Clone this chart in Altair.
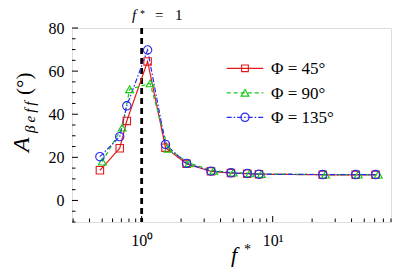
import altair as alt
import pandas as pd

# ---- data ----
series = ["Φ = 45°", "Φ = 90°", "Φ = 135°"]
colors = ["#e31a1a", "#14c814", "#2828f0"]

f_star_45 = [0.48, 0.68, 0.77, 1.11, 1.52, 2.2, 3.38, 4.8, 6.4, 7.86, 24.1, 43.0, 61.0]
f_star_90 = [0.50, 0.71, 0.81, 1.16, 1.59, 2.3, 3.55, 5.0, 6.7, 8.2, 25.3, 45.0, 64.0]
f_star_135 = [0.48, 0.68, 0.77, 1.11, 1.52, 2.2, 3.38, 4.8, 6.4, 7.86, 24.1, 43.0, 61.0]

a_45 = [14.0, 24.2, 36.9, 64.5, 24.5, 17.0, 13.5, 12.7, 12.4, 12.2, 11.9, 11.9, 11.9]
a_90 = [18.0, 33.8, 51.6, 54.3, 24.0, 17.3, 13.8, 12.9, 12.6, 12.3, 12.0, 12.0, 12.0]
a_135 = [20.3, 29.6, 43.9, 69.8, 26.0, 17.2, 13.6, 12.8, 12.5, 12.2, 12.0, 12.0, 12.0]

y_major = [0, 20, 40, 60, 80]
y_minor = [-10, -5, 5, 10, 15, 25, 30, 35, 45, 50, 55, 65, 70, 75]
x_major = [1, 10]
x_minor = [0.3, 0.4, 0.5, 0.6, 0.7, 0.8, 0.9, 2, 3, 4, 5, 6, 7, 8, 9, 20, 30, 40, 50, 60, 70, 80]
f_line = [1]

rows = []
for name, xs, ys in [(series[0], f_star_45, a_45), (series[1], f_star_90, a_90), (series[2], f_star_135, a_135)]:
    for xv, yv in zip(xs, ys):
        rows.append({"series": name, "f": xv, "A": yv})
df = pd.DataFrame(rows)

W, H = 319, 194
FONT = "Liberation Serif"

xscale = alt.Scale(type="log", domain=[0.294, 80], nice=False)
yscale = alt.Scale(domain=[-10, 80], nice=False, zero=False)

xaxis = alt.Axis(values=x_major, labelExpr="datum.value == 1 ? '10⁰' : '10¹'", title=None,
                 ticks=False, domain=False, grid=False, labelFont=FONT, labelFontSize=16,
                 labelColor="black", labelPadding=10)
yaxis = alt.Axis(values=y_major, title=None, ticks=False, domain=False, grid=False,
                 labelFont=FONT, labelFontSize=16, labelColor="black", labelPadding=8)

dashes = [[1, 0], [4, 3], [5, 2, 1.5, 2]]
shapes = ["square", "triangle-up", "circle"]
sizes = [55, 70, 90]

color_enc = alt.Color("series:N", scale=alt.Scale(domain=series, range=colors), legend=None)
dash_enc = alt.StrokeDash("series:N", scale=alt.Scale(domain=series, range=dashes), legend=None)

vline = alt.Chart(pd.DataFrame({"f": f_line})).mark_rule(
    color="black", strokeWidth=2.8, strokeDash=[6, 4]
).encode(x=alt.X("f:Q", scale=xscale, axis=xaxis))

lines = alt.Chart(df).mark_line(strokeWidth=1.2).encode(
    x=alt.X("f:Q", scale=xscale, axis=xaxis),
    y=alt.Y("A:Q", scale=yscale, axis=yaxis),
    color=color_enc,
    strokeDash=dash_enc,
    detail="series:N",
)

points = alt.Chart(df).mark_point(filled=False, strokeWidth=1.1, opacity=1).encode(
    x=alt.X("f:Q", scale=xscale, axis=xaxis),
    y=alt.Y("A:Q", scale=yscale, axis=yaxis),
    color=color_enc,
    shape=alt.Shape("series:N", scale=alt.Scale(domain=series, range=shapes), legend=None),
    size=alt.Size("series:N", scale=alt.Scale(domain=series, range=sizes), legend=None),
)

def yticks(vals, length):
    return alt.Chart(pd.DataFrame({"A": vals})).mark_rule(color="black", strokeWidth=1).encode(
        y=alt.Y("A:Q", scale=yscale, axis=yaxis), x=alt.value(0), x2=alt.value(length))

def xticks(vals, length):
    return alt.Chart(pd.DataFrame({"f": vals})).mark_rule(color="black", strokeWidth=1).encode(
        x=alt.X("f:Q", scale=xscale, axis=xaxis), y=alt.value(H), y2=alt.value(H - length))

one = pd.DataFrame({"k": [0]})

def txt(s, x, y, size, style="normal", angle=0, align="left", color="black"):
    return alt.Chart(one).mark_text(
        text=s, font=FONT, fontSize=size, fontStyle=style, angle=angle, align=align,
        baseline="alphabetic", color=color
    ).encode(x=alt.value(x), y=alt.value(y))

# legend (drawn by hand)
leg_layers = []
for i, name in enumerate(series):
    ly = 40.3 + i * 24.5
    leg_layers.append(alt.Chart(one).mark_rule(color=colors[i], strokeWidth=1.2, strokeDash=dashes[i]).encode(
        x=alt.value(154.7), x2=alt.value(191.3), y=alt.value(ly)))
    leg_layers.append(alt.Chart(one).mark_point(color=colors[i], shape=shapes[i], size=[45, 60, 70][i],
                                                filled=False, strokeWidth=1.1, opacity=1).encode(
        x=alt.value(173), y=alt.value(ly)))
    leg_layers.append(txt(name, 199, ly + 6, 17))

texts = [
    # top annotation f* = 1
    txt("f", 60, -8, 15, "italic"),
    txt("*", 68, -11, 10),
    txt("=", 83, -8, 15),
    txt("1", 103, -8, 15),
    # x title
    txt("f", 159, 234, 22, "italic"),
    txt("*", 172, 226, 14),
    # y title (rotated)
    txt("A", -43, 124, 24, "italic", angle=270),
    txt("β\u2009e\u2009f\u2009f", -37, 105, 15, "italic", angle=270),
    txt("(°)", -41, 67, 21, angle=270),
]

chart = alt.layer(
    vline, lines, points,
    yticks(y_major, 6), yticks(y_minor, 3.5), xticks(x_major, 6), xticks(x_minor, 3.5),
    *leg_layers, *texts
).properties(
    width=W, height=H,
    autosize=alt.AutoSizeParams(type="none"),
    padding={"left": 64, "top": 20, "right": 8, "bottom": 48},
).configure_view(stroke="black", strokeWidth=1.4).configure(background="white")

chart.save("out.html", embed_options={"renderer": "svg", "actions": False})
